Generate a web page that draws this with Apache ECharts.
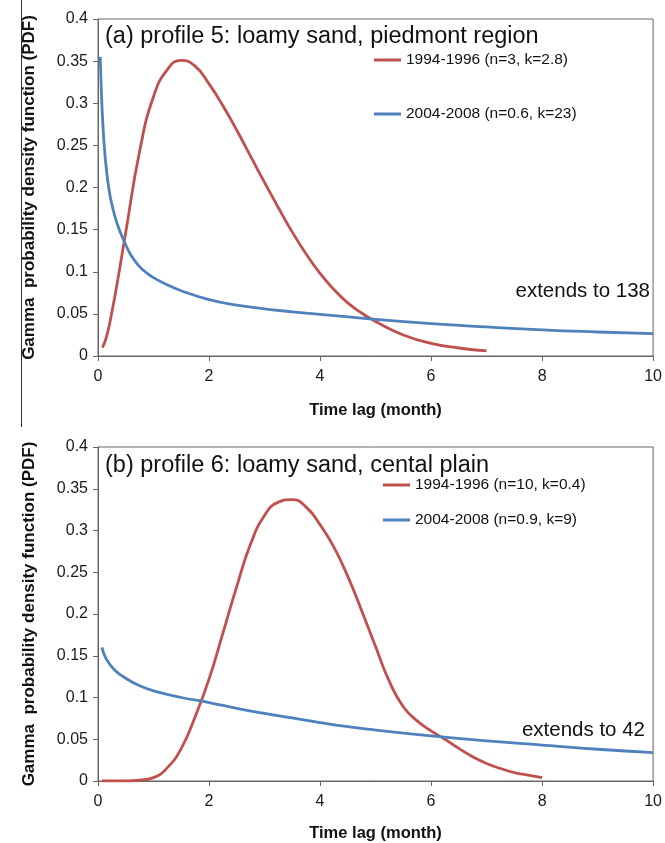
<!DOCTYPE html>
<html>
<head>
<meta charset="utf-8">
<script src="https://cdn.jsdelivr.net/npm/echarts@6.0.0/dist/echarts.min.js"></script>
<style>
html, body { margin: 0; padding: 0; background: #fff; }
#chart { width: 665px; height: 843px; }
</style>
</head>
<body>
<div id="chart"></div>
<script>
// values
var xTicks = [0, 2, 4, 6, 8, 10];
var yTicks = [0, 0.05, 0.1, 0.15, 0.2, 0.25, 0.3, 0.35, 0.4];

// (a) profile 5
var aRedName = "1994-1996 (n=3, k=2.8)";
var aRedX = [0.08, 0.15, 0.25, 0.35, 0.5, 0.75, 1.0, 1.25, 1.5, 1.75, 2.0, 2.25, 2.5, 2.75, 3.0, 3.25, 3.5, 3.75, 4.0, 4.25, 4.5, 4.75, 5.0, 5.5, 6.0, 6.5, 7.0];
var aRedY = [0.010, 0.022, 0.052, 0.088, 0.147, 0.243, 0.308, 0.340, 0.351, 0.344, 0.323, 0.297, 0.268, 0.237, 0.206, 0.176, 0.147, 0.121, 0.098, 0.079, 0.063, 0.051, 0.041, 0.025, 0.015, 0.0095, 0.006];
var aBlueName = "2004-2008 (n=0.6, k=23)";
var aBlueX = [0.04, 0.06, 0.08, 0.11, 0.15, 0.2, 0.25, 0.35, 0.5, 0.6, 0.75, 0.85, 1.0, 1.2, 1.5, 2.0, 2.5, 3.0, 3.5, 4.0, 5.0, 6.0, 7.0, 8.0, 9.0, 10.0];
var aBlueY = [0.355, 0.315, 0.285, 0.252, 0.222, 0.197, 0.180, 0.156, 0.132, 0.119, 0.106, 0.100, 0.093, 0.086, 0.0775, 0.067, 0.0605, 0.056, 0.0525, 0.0495, 0.0435, 0.0385, 0.0345, 0.031, 0.0285, 0.0265];

// (b) profile 6
var bRedName = "1994-1996 (n=10, k=0.4)";
var bRedX = [0.07, 0.5, 0.75, 1.0, 1.25, 1.5, 1.75, 2.0, 2.25, 2.5, 2.75, 3.0, 3.25, 3.5, 3.75, 4.0, 4.25, 4.5, 4.75, 5.0, 5.25, 5.5, 5.75, 6.0, 6.25, 6.5, 6.75, 7.0, 7.25, 7.5, 7.75, 8.0];
var bRedY = [0.0, 0.0, 0.001, 0.004, 0.016, 0.039, 0.077, 0.122, 0.177, 0.233, 0.284, 0.318, 0.334, 0.337, 0.328, 0.307, 0.280, 0.245, 0.204, 0.161, 0.119, 0.089, 0.072, 0.060, 0.050, 0.039, 0.029, 0.021, 0.015, 0.010, 0.007, 0.004];
var bBlueName = "2004-2008 (n=0.9, k=9)";
var bBlueX = [0.07, 0.15, 0.3, 0.5, 0.75, 1.0, 1.5, 2.0, 2.5, 3.0, 3.5, 4.0, 4.5, 5.0, 6.0, 7.0, 8.0, 9.0, 10.0];
var bBlueY = [0.160, 0.146, 0.133, 0.123, 0.114, 0.108, 0.100, 0.094, 0.087, 0.081, 0.0755, 0.070, 0.065, 0.061, 0.054, 0.048, 0.043, 0.038, 0.034];

var RED = "#C0504D";
var BLUE = "#4F81BD";
var AXIS = "#666666";
var FONT = "Liberation Sans";

function pairs(xs, ys) {
  return xs.map(function (x, i) { return [x, ys[i]]; });
}

function xAxisFor(gi, gap) {
  return {
    type: "value", gridIndex: gi,
    min: xTicks[0], max: xTicks[xTicks.length - 1], interval: 2,
    axisLine: { show: true, onZero: false, lineStyle: { color: AXIS, width: 1 } },
    axisTick: { show: true, length: 5, lineStyle: { color: AXIS } },
    axisLabel: { fontSize: 16, color: "#1a1a1a", margin: 13, fontFamily: FONT },
    splitLine: { show: false },
    name: "Time lag (month)", nameLocation: "middle", nameGap: gap,
    nameTextStyle: { fontSize: 16.5, fontWeight: "bold", color: "#111", fontFamily: FONT }
  };
}

function yAxisFor(gi) {
  return {
    type: "value", gridIndex: gi,
    min: yTicks[0], max: yTicks[yTicks.length - 1], interval: 0.05,
    axisLine: { show: true, lineStyle: { color: AXIS, width: 1 } },
    axisTick: { show: true, length: 5, lineStyle: { color: AXIS } },
    axisLabel: {
      fontSize: 16, color: "#1a1a1a", margin: 10, fontFamily: FONT,
      formatter: function (v) { return String(Math.round(v * 100) / 100); }
    },
    splitLine: { show: false },
    name: "Gamma  probability density function (PDF)", nameLocation: "middle",
    nameRotate: 90, nameGap: 60,
    nameTextStyle: { fontSize: 17, fontWeight: "bold", color: "#111", fontFamily: FONT }
  };
}

function lineSeries(name, gi, xs, ys, color) {
  return {
    name: name, type: "line", xAxisIndex: gi, yAxisIndex: gi,
    data: pairs(xs, ys), showSymbol: false, smooth: 0.5,
    color: color, lineStyle: { color: color, width: 2.8 }, z: 3
  };
}

function legendFor(names, left, top, gap) {
  return {
    data: names, orient: "vertical", left: left, top: top, itemGap: gap,
    padding: 0, itemWidth: 27, itemHeight: 3, icon: "rect",
    textStyle: { fontSize: 15.5, color: "#111", lineHeight: 16, fontFamily: FONT }
  };
}

var chart = echarts.init(document.getElementById("chart"));
var option = {
  backgroundColor: "#fff",
  animation: false,
  textStyle: { fontFamily: FONT },
  grid: [
    { left: 98, top: 19, width: 558, height: 337, show: true, borderColor: AXIS, borderWidth: 1 },
    { left: 98, top: 447, width: 558, height: 336, show: true, borderColor: AXIS, borderWidth: 1 }
  ],
  xAxis: [xAxisFor(0, 46), xAxisFor(1, 44)],
  yAxis: [yAxisFor(0), yAxisFor(1)],
  legend: [
    legendFor([aRedName, aBlueName], 374, 52, 38),
    legendFor([bRedName, bBlueName], 383, 477, 19)
  ],
  series: [
    lineSeries(aRedName, 0, aRedX, aRedY, RED),
    lineSeries(aBlueName, 0, aBlueX, aBlueY, BLUE),
    lineSeries(bRedName, 1, bRedX, bRedY, RED),
    lineSeries(bBlueName, 1, bBlueX, bBlueY, BLUE)
  ],
  graphic: [
    { type: "line", shape: { x1: 21.5, y1: 0, x2: 21.5, y2: 427 }, style: { stroke: "#333", lineWidth: 1 } },
    { type: "text", x: 105, y: 37, style: { text: "(a) profile 5: loamy sand, piedmont region", fontSize: 23.5, fontFamily: FONT, fill: "#111", align: "left", verticalAlign: "middle" } },
    { type: "text", x: 105, y: 466, style: { text: "(b) profile 6: loamy sand, cental plain", fontSize: 23.5, fontFamily: FONT, fill: "#111", align: "left", verticalAlign: "middle" } },
    { type: "text", x: 650, y: 291, style: { text: "extends to 138", fontSize: 20.5, fontFamily: FONT, fill: "#111", align: "right", verticalAlign: "middle" } },
    { type: "text", x: 645, y: 730, style: { text: "extends to 42", fontSize: 20.5, fontFamily: FONT, fill: "#111", align: "right", verticalAlign: "middle" } }
  ]
};
chart.setOption(option);
</script>
</body>
</html>
